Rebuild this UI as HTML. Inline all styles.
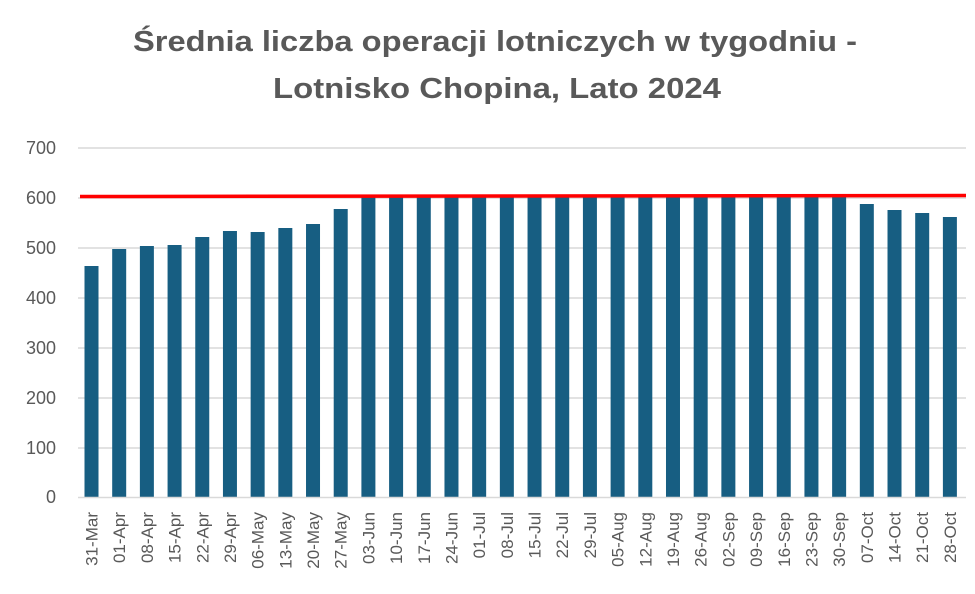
<!DOCTYPE html>
<html><head><meta charset="utf-8"><style>body{margin:0;background:#fff}</style></head>
<body>
<svg width="975" height="589" xmlns="http://www.w3.org/2000/svg" font-family="Liberation Sans, sans-serif">
<rect width="975" height="589" fill="#fff"/>
<text x="495" y="51" text-anchor="middle" font-size="29" font-weight="bold" fill="#595959" textLength="724" lengthAdjust="spacingAndGlyphs">Średnia liczba operacji lotniczych w tygodniu -</text>
<text x="497" y="98" text-anchor="middle" font-size="29" font-weight="bold" fill="#595959" textLength="448" lengthAdjust="spacingAndGlyphs">Lotnisko Chopina, Lato 2024</text>
<g stroke="#d9d9d9" stroke-width="1.5">
<line x1="78" x2="966" y1="148" y2="148"/><line x1="78" x2="966" y1="198" y2="198"/>
<line x1="78" x2="966" y1="248" y2="248"/><line x1="78" x2="966" y1="298" y2="298"/>
<line x1="78" x2="966" y1="348" y2="348"/><line x1="78" x2="966" y1="398" y2="398"/>
<line x1="78" x2="966" y1="448" y2="448"/>
</g>
<g font-size="18" fill="#595959" text-anchor="end">
<text x="56" y="154">700</text><text x="56" y="204">600</text><text x="56" y="254">500</text>
<text x="56" y="304">400</text><text x="56" y="354">300</text><text x="56" y="404">200</text>
<text x="56" y="454">100</text><text x="56" y="503">0</text>
</g>
<g id="bars" fill="#175e82"></g>
<line x1="78" x2="966" y1="497.5" y2="497.5" stroke="#d9d9d9" stroke-width="1.5"/>
<line x1="80" x2="966" y1="196.5" y2="195.5" stroke="#ff0000" stroke-width="3.5"/>
<g id="labels" font-size="17" fill="#595959"></g>
</svg>
<script>
var tops=[266,249,246,245,237,231,232,228,224,209,197,197,197,197,197,197,197,197,197,197,197,197,197,197,197,197,197,197,204,210,213,217];
var labs=["31-Mar","01-Apr","08-Apr","15-Apr","22-Apr","29-Apr","06-May","13-May","20-May","27-May","03-Jun","10-Jun","17-Jun","24-Jun","01-Jul","08-Jul","15-Jul","22-Jul","29-Jul","05-Aug","12-Aug","19-Aug","26-Aug","02-Sep","09-Sep","16-Sep","23-Sep","30-Sep","07-Oct","14-Oct","21-Oct","28-Oct"];
var ns="http://www.w3.org/2000/svg",b=document.getElementById("bars"),l=document.getElementById("labels");
for(var i=0;i<32;i++){var c=91.5+i*27.69;
var r=document.createElementNS(ns,"rect");r.setAttribute("x",c-7);r.setAttribute("y",tops[i]);r.setAttribute("width",14);r.setAttribute("height",497-tops[i]);b.appendChild(r);
var t=document.createElementNS(ns,"text");t.setAttribute("transform","translate("+(c+6)+",512) rotate(-90)");t.setAttribute("text-anchor","end");t.textContent=labs[i];l.appendChild(t);}
</script>
</body></html>
